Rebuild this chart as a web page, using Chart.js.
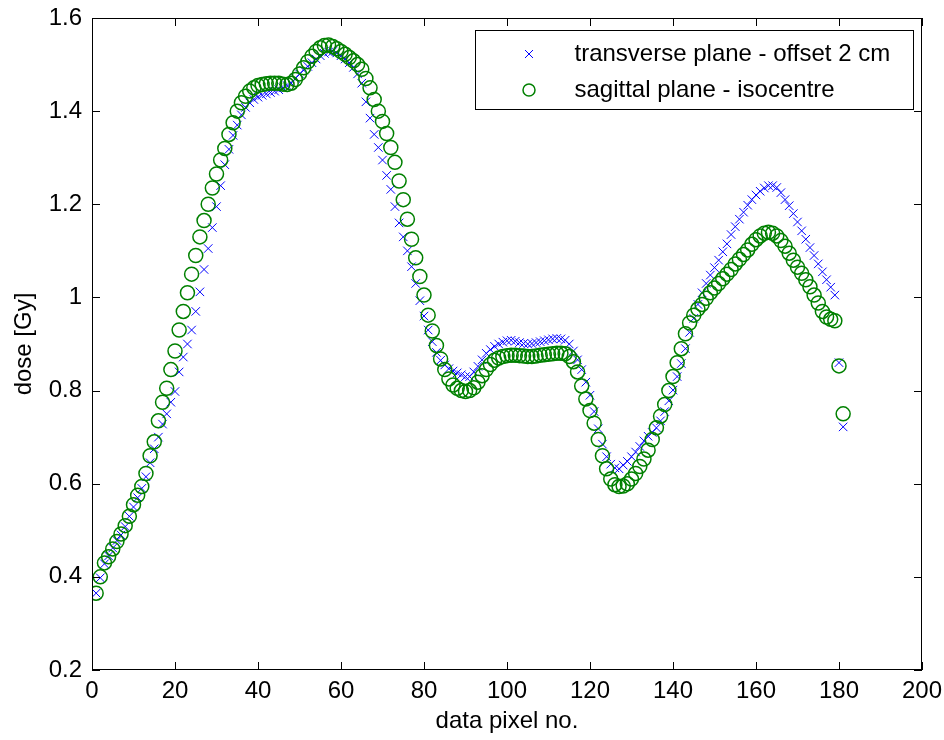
<!DOCTYPE html>
<html>
<head>
<meta charset="utf-8">
<script src="https://cdn.jsdelivr.net/npm/chart.js@4/dist/chart.umd.min.js"></script>
<style>
  html, body { margin: 0; padding: 0; background: #fff; }
  #wrap { width: 944px; height: 740px; position: relative; }
</style>
</head>
<body>
<div id="wrap"><canvas id="doseChart"></canvas></div>
<script>
/* ==============================
   DATA
============================== */

const pixelNo = [
    1, 2, 3, 4, 5, 6, 7, 8, 9, 10,
    11, 12, 13, 14, 15, 16, 17, 18, 19, 20,
    21, 22, 23, 24, 25, 26, 27, 28, 29, 30,
    31, 32, 33, 34, 35, 36, 37, 38, 39, 40,
    41, 42, 43, 44, 45, 46, 47, 48, 49, 50,
    51, 52, 53, 54, 55, 56, 57, 58, 59, 60,
    61, 62, 63, 64, 65, 66, 67, 68, 69, 70,
    71, 72, 73, 74, 75, 76, 77, 78, 79, 80,
    81, 82, 83, 84, 85, 86, 87, 88, 89, 90,
    91, 92, 93, 94, 95, 96, 97, 98, 99, 100,
    101, 102, 103, 104, 105, 106, 107, 108, 109, 110,
    111, 112, 113, 114, 115, 116, 117, 118, 119, 120,
    121, 122, 123, 124, 125, 126, 127, 128, 129, 130,
    131, 132, 133, 134, 135, 136, 137, 138, 139, 140,
    141, 142, 143, 144, 145, 146, 147, 148, 149, 150,
    151, 152, 153, 154, 155, 156, 157, 158, 159, 160,
    161, 162, 163, 164, 165, 166, 167, 168, 169, 170,
    171, 172, 173, 174, 175, 176, 177, 178, 179, 180, 181
];

// transverse plane - offset 2 cm (blue x)
const transverseDose = [
    0.365, 0.398, 0.428, 0.445, 0.462, 0.478, 0.490, 0.508, 0.530, 0.550,
    0.570, 0.590, 0.615, 0.645, 0.675, 0.700, 0.728, 0.750, 0.775, 0.798,
    0.840, 0.872, 0.900, 0.930, 0.970, 1.012, 1.060, 1.105, 1.150, 1.195,
    1.240, 1.285, 1.318, 1.348, 1.370, 1.392, 1.408, 1.418, 1.425, 1.430,
    1.434, 1.437, 1.440, 1.443, 1.446, 1.450, 1.455, 1.460, 1.470, 1.480,
    1.488, 1.496, 1.504, 1.512, 1.519, 1.524, 1.527, 1.528, 1.525, 1.519,
    1.512, 1.504, 1.494, 1.480, 1.460, 1.420, 1.385, 1.350, 1.322, 1.295,
    1.262, 1.232, 1.195, 1.160, 1.130, 1.100, 1.066, 1.030, 0.993, 0.960,
    0.930, 0.905, 0.882, 0.865, 0.855, 0.847, 0.842, 0.838, 0.834, 0.830,
    0.830, 0.840, 0.852, 0.866, 0.880, 0.888, 0.895, 0.900, 0.904, 0.907,
    0.908, 0.906, 0.903, 0.901, 0.900, 0.901, 0.903, 0.905, 0.907, 0.909,
    0.911, 0.912, 0.911, 0.908, 0.900, 0.885, 0.866, 0.845, 0.818, 0.790,
    0.755, 0.718, 0.685, 0.658, 0.642, 0.634, 0.632, 0.640, 0.648, 0.658,
    0.668, 0.680, 0.692, 0.702, 0.710, 0.720, 0.735, 0.755, 0.778, 0.801,
    0.830, 0.858, 0.890, 0.925, 0.955, 0.985, 1.010, 1.030, 1.048, 1.064,
    1.080, 1.098, 1.115, 1.135, 1.152, 1.168, 1.183, 1.198, 1.210, 1.220,
    1.228, 1.235, 1.240, 1.240, 1.236, 1.225, 1.210, 1.197, 1.180, 1.162,
    1.143, 1.125, 1.107, 1.090, 1.072, 1.055, 1.038, 1.022, 1.005, 0.860, 0.722
];

// sagittal plane - isocentre (green o)
const sagittalDose = [
    0.365, 0.400, 0.430, 0.443, 0.460, 0.476, 0.492, 0.510, 0.530, 0.555,
    0.575, 0.594, 0.622, 0.660, 0.690, 0.735, 0.775, 0.805, 0.845, 0.885,
    0.930, 0.970, 1.010, 1.050, 1.090, 1.130, 1.165, 1.200, 1.235, 1.265,
    1.295, 1.320, 1.350, 1.375, 1.400, 1.418, 1.432, 1.443, 1.450, 1.455,
    1.457, 1.459, 1.460, 1.460, 1.460, 1.458, 1.457, 1.460, 1.468, 1.480,
    1.493, 1.506, 1.518, 1.528, 1.536, 1.541, 1.542, 1.539, 1.534, 1.528,
    1.522, 1.515, 1.508, 1.500, 1.490, 1.470, 1.450, 1.425, 1.400, 1.378,
    1.352, 1.322, 1.290, 1.250, 1.210, 1.168, 1.125, 1.085, 1.045, 1.005,
    0.962, 0.928, 0.897, 0.868, 0.845, 0.825, 0.812, 0.805, 0.800, 0.798,
    0.800, 0.806, 0.818, 0.832, 0.845, 0.856, 0.865, 0.870, 0.873, 0.875,
    0.876, 0.876, 0.875, 0.874, 0.873, 0.873, 0.874, 0.876, 0.877, 0.878,
    0.879, 0.880, 0.880, 0.879, 0.873, 0.862, 0.840, 0.810, 0.782, 0.757,
    0.730, 0.695, 0.660, 0.632, 0.610, 0.598, 0.594, 0.595, 0.600, 0.610,
    0.622, 0.637, 0.653, 0.672, 0.695, 0.720, 0.745, 0.770, 0.800, 0.830,
    0.860, 0.890, 0.922, 0.945, 0.962, 0.975, 0.985, 0.998, 1.010, 1.020,
    1.030, 1.040, 1.050, 1.060, 1.072, 1.082, 1.092, 1.102, 1.114, 1.124,
    1.132, 1.138, 1.140, 1.138, 1.132, 1.122, 1.110, 1.095, 1.080, 1.065,
    1.052, 1.038, 1.023, 1.005, 0.988, 0.970, 0.958, 0.953, 0.950, 0.853, 0.750
];

const seriesLabels = ["transverse plane - offset 2 cm", "sagittal plane - isocentre"];

/* ==============================
   STYLE
============================== */

const FONT = '"Liberation Sans", Arial, sans-serif';
const BLUE = "#0000ff";
const GREEN = "#008000";

Chart.defaults.color = "#000";
Chart.defaults.font.family = FONT;
Chart.defaults.font.size = 24;

function toPoints(ys) {
    return pixelNo.map((x, i) => ({ x: x, y: ys[i] }));
}

/* ==============================
   FRAME, INWARD TICKS, LEGEND BOX
============================== */

const matlabAxes = {
    id: "matlabAxes",
    afterDraw(chart) {
        const { ctx, chartArea: a, scales } = chart;
        const tick = 8;
        ctx.save();
        ctx.strokeStyle = "#000";
        ctx.lineWidth = 1;

        // box
        ctx.strokeRect(a.left + 0.5, a.top + 0.5, a.right - a.left - 1, a.bottom - a.top - 1);

        // ticks pointing inwards on all four sides
        ctx.beginPath();
        scales.x.ticks.forEach(t => {
            const px = Math.round(scales.x.getPixelForValue(t.value)) + 0.5;
            ctx.moveTo(px, a.bottom); ctx.lineTo(px, a.bottom - tick);
            ctx.moveTo(px, a.top); ctx.lineTo(px, a.top + tick);
        });
        scales.y.ticks.forEach(t => {
            const py = Math.round(scales.y.getPixelForValue(t.value)) + 0.5;
            ctx.moveTo(a.left, py); ctx.lineTo(a.left + tick, py);
            ctx.moveTo(a.right, py); ctx.lineTo(a.right - tick, py);
        });
        ctx.stroke();

        // legend box (top right, inside the axes)
        const bw = 438, bh = 79;
        const bx = Math.round(a.right - 9 - bw) + 0.5;
        const by = Math.round(a.top + 12) + 0.5;
        ctx.fillStyle = "#fff";
        ctx.fillRect(bx, by, bw, bh);
        ctx.strokeRect(bx, by, bw, bh);

        const mx = Math.round(bx + 53);
        const rows = [Math.round(by + 23), Math.round(by + 59)];

        // cross marker
        ctx.strokeStyle = BLUE;
        ctx.lineWidth = 1;
        ctx.beginPath();
        ctx.moveTo(mx - 4, rows[0] - 4); ctx.lineTo(mx + 4, rows[0] + 4);
        ctx.moveTo(mx - 4, rows[0] + 4); ctx.lineTo(mx + 4, rows[0] - 4);
        ctx.stroke();

        // circle marker
        ctx.strokeStyle = GREEN;
        ctx.lineWidth = 1.5;
        ctx.beginPath();
        ctx.arc(mx, rows[1], 6, 0, Math.PI * 2);
        ctx.stroke();

        ctx.fillStyle = "#000";
        ctx.font = "24px " + FONT;
        ctx.textBaseline = "middle";
        ctx.textAlign = "left";
        seriesLabels.forEach((lbl, i) => ctx.fillText(lbl, bx + 99, rows[i]));

        ctx.restore();
    }
};

/* ==============================
   CHART
============================== */

new Chart(document.getElementById("doseChart"), {
    type: "scatter",
    data: {
        datasets: [
            {
                label: seriesLabels[0],
                data: toPoints(transverseDose),
                pointStyle: "crossRot",
                pointRadius: 6,
                pointHoverRadius: 6,
                borderColor: BLUE,
                backgroundColor: BLUE,
                borderWidth: 1,
                order: 2
            },
            {
                label: seriesLabels[1],
                data: toPoints(sagittalDose),
                pointStyle: "circle",
                pointRadius: 7,
                pointHoverRadius: 7,
                borderColor: GREEN,
                backgroundColor: "rgba(0,0,0,0)",
                borderWidth: 1.5,
                order: 1
            }
        ]
    },
    options: {
        responsive: true,
        maintainAspectRatio: false,
        animation: false,
        layout: { padding: { top: 18, right: 22, left: 0, bottom: 0 } },
        plugins: {
            legend: { display: false },
            tooltip: { enabled: false }
        },
        scales: {
            x: {
                type: "linear",
                min: 0,
                max: 200,
                grid: { display: false, drawTicks: false },
                border: { display: false },
                ticks: { stepSize: 20, padding: 7, maxRotation: 0 },
                title: { display: true, text: "data pixel no.", padding: { top: 0, bottom: 4 } },
                afterFit(scale) {
                    scale.height = 70;
                    scale.paddingLeft = 0;
                    scale.paddingRight = 0;
                }
            },
            y: {
                min: 0.2,
                max: 1.6,
                grid: { display: false, drawTicks: false },
                border: { display: false },
                ticks: {
                    stepSize: 0.2,
                    padding: 10,
                    callback: v => String(+v.toFixed(1))
                },
                title: { display: true, text: "dose [Gy]", padding: { top: 10, bottom: 0 } },
                afterFit(scale) {
                    scale.width = 92;
                    scale.paddingTop = 0;
                    scale.paddingBottom = 0;
                }
            }
        }
    },
    plugins: [matlabAxes]
});
</script>
</body>
</html>
